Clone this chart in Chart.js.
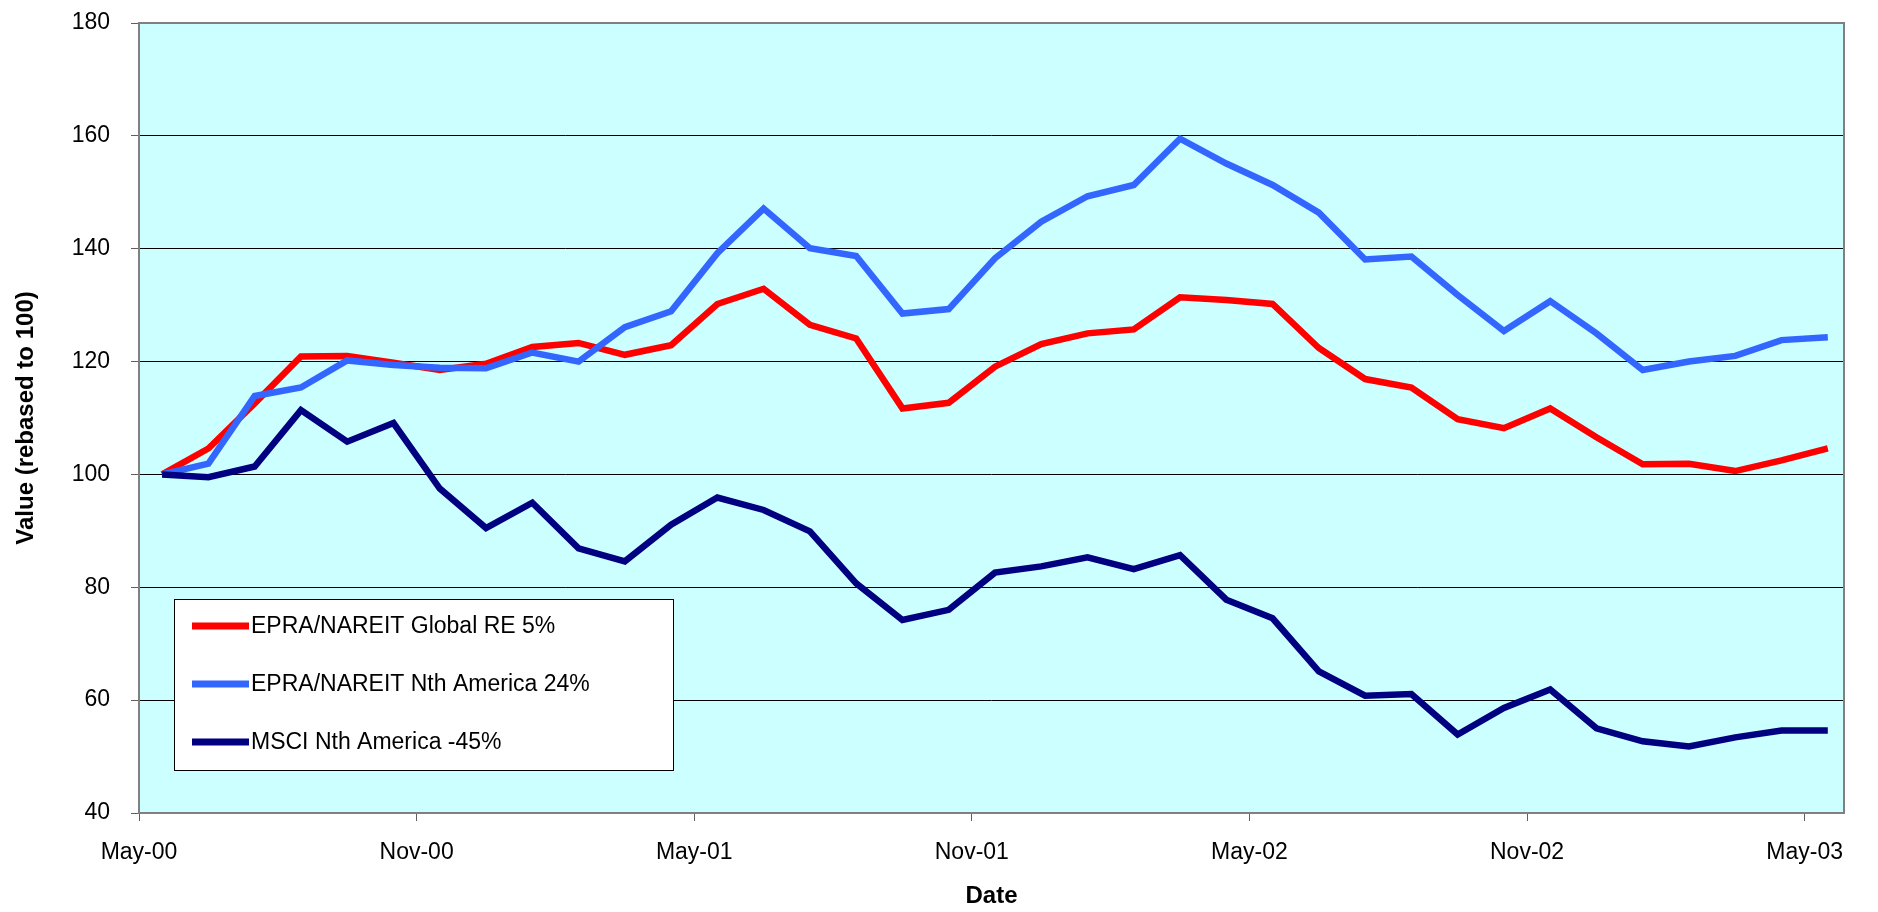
<!DOCTYPE html>
<html>
<head>
<meta charset="utf-8">
<script src="https://cdn.jsdelivr.net/npm/chart.js@4.4.1/dist/chart.umd.min.js"></script>
<style>
  html, body { margin: 0; padding: 0; background: #fff; }
  #wrap { width: 1878px; height: 912px; }
</style>
</head>
<body>
<div id="wrap"><canvas id="myChart" width="1878" height="912"></canvas></div>
<script>
// monthly observations, end of May-00 to end of May-03
var months = ['May-00','Jun-00','Jul-00','Aug-00','Sep-00','Oct-00','Nov-00','Dec-00',
  'Jan-01','Feb-01','Mar-01','Apr-01','May-01','Jun-01','Jul-01','Aug-01','Sep-01','Oct-01',
  'Nov-01','Dec-01','Jan-02','Feb-02','Mar-02','Apr-02','May-02','Jun-02','Jul-02','Aug-02',
  'Sep-02','Oct-02','Nov-02','Dec-02','Jan-03','Feb-03','Mar-03','Apr-03','May-03'];

var seriesNames = ['EPRA/NAREIT Global RE 5%', 'EPRA/NAREIT Nth America 24%', 'MSCI Nth America -45%'];

var globalRE = [100, 104.6, 112.6, 120.9, 121.0, 119.8, 118.5, 119.6, 122.6, 123.3, 121.2, 122.9,
  130.2, 132.9, 126.5, 124.1, 111.7, 112.7, 119.1, 123.1, 125.0, 125.7, 131.4, 130.9,
  130.2, 122.4, 116.9, 115.4, 109.8, 108.2, 111.7, 106.6, 101.8, 101.9, 100.6, 102.5, 104.6];

var nthAmericaRE = [100, 101.9, 113.9, 115.4, 120.2, 119.4, 118.9, 118.8, 121.6, 120.0, 126.1, 128.9,
  139.2, 147.1, 140.1, 138.7, 128.5, 129.3, 138.3, 144.8, 149.3, 151.3, 159.5, 155.1,
  151.3, 146.4, 138.1, 138.6, 131.8, 125.4, 130.7, 125.0, 118.5, 120.0, 121.0, 123.8, 124.3];

var msciNthAmerica = [100, 99.5, 101.4, 111.4, 105.8, 109.1, 97.5, 90.5, 95.0, 86.9, 84.6, 91.1,
  95.9, 93.7, 89.9, 80.7, 74.2, 76.0, 82.6, 83.7, 85.3, 83.2, 85.7, 77.8,
  74.5, 65.1, 60.8, 61.1, 53.9, 58.6, 61.9, 55.0, 52.7, 51.8, 53.4, 54.6, 54.6];

var tickLabels = ['May-00','Nov-00','May-01','Nov-01','May-02','Nov-02','May-03'];
var tickMonths = [0, 6, 12, 18, 24, 30, 36];

var colors = ['#ff0000', '#3366ff', '#000080'];

// points sit mid-month on the month axis
function toPoints(vals) {
  var pts = [];
  for (var i = 0; i < vals.length; i++) {
    pts.push({x: i + 0.5, y: vals[i]});
  }
  return pts;
}

var allSeries = [globalRE, nthAmericaRE, msciNthAmerica];
var datasets = [];
for (var s = 0; s < allSeries.length; s++) {
  datasets.push({
    label: seriesNames[s],
    data: toPoints(allSeries[s]),
    borderColor: colors[s],
    backgroundColor: colors[s],
    borderWidth: 6.5,
    pointRadius: 0,
    tension: 0,
    fill: false,
    order: 2 - s
  });
}

// plot background + frame
var plotFrame = {
  id: 'plotFrame',
  beforeDraw: function(chart) {
    var a = chart.chartArea, c = chart.ctx;
    c.save();
    c.fillStyle = '#ccffff';
    c.fillRect(a.left, a.top, a.right - a.left, a.bottom - a.top);
    c.restore();
  },
  beforeDatasetsDraw: function(chart) {
    var a = chart.chartArea, c = chart.ctx;
    c.save();
    c.strokeStyle = '#808080';
    c.lineWidth = 2;
    c.strokeRect(a.left, a.top, a.right - a.left, a.bottom - a.top);
    c.restore();
  }
};

// boxed legend sitting in the lower-left of the plot
var boxLegend = {
  id: 'boxLegend',
  afterDatasetsDraw: function(chart) {
    var a = chart.chartArea, c = chart.ctx;
    var x0 = a.left + 35, y0 = a.bottom - 214, w = 499, h = 171;
    c.save();
    c.fillStyle = '#ffffff';
    c.fillRect(x0, y0, w, h);
    c.strokeStyle = '#000000';
    c.lineWidth = 1;
    c.strokeRect(x0 + 0.5, y0 + 0.5, w, h);
    c.font = '23px "Liberation Sans", Arial, sans-serif';
    c.textBaseline = 'middle';
    c.textAlign = 'left';
    var ds = chart.data.datasets;
    for (var i = 0; i < ds.length; i++) {
      var yy = y0 + 27 + i * 58;
      c.strokeStyle = ds[i].borderColor;
      c.lineWidth = 7;
      c.beginPath();
      c.moveTo(x0 + 18, yy);
      c.lineTo(x0 + 75, yy);
      c.stroke();
      c.fillStyle = '#000000';
      c.fillText(ds[i].label, x0 + 77, yy + 1);
    }
    c.restore();
  }
};

var tickFont = {family: '"Liberation Sans", Arial, sans-serif', size: 23};
var titleFont = {family: '"Liberation Sans", Arial, sans-serif', size: 24, weight: 'bold'};

var config = {
  type: 'line',
  data: {datasets: datasets},
  options: {
    responsive: false,
    animation: false,
    layout: {padding: {left: 0, top: 23, right: 34, bottom: 0}},
    plugins: {legend: {display: false}, tooltip: {enabled: false}},
    scales: {
      x: {
        type: 'linear',
        min: 0,
        max: 36.85,
        afterBuildTicks: function(scale) {
          scale.ticks = tickMonths.map(function(v) { return {value: v}; });
        },
        afterFit: function(scale) { scale.height = 99; },
        ticks: {
          color: '#000',
          font: tickFont,
          padding: 18,
          maxRotation: 0,
          autoSkip: false,
          callback: function(v) {
            var k = tickMonths.indexOf(v);
            return k >= 0 ? tickLabels[k] : '';
          }
        },
        grid: {drawOnChartArea: false, drawTicks: true, tickLength: 8, tickColor: '#606060', lineWidth: 1},
        border: {display: false},
        title: {display: true, text: 'Date', color: '#000', font: titleFont, padding: {top: 0, bottom: 1}}
      },
      y: {
        min: 40,
        max: 180,
        afterFit: function(scale) {
          scale.width = 139;
          scale.paddingTop = 0;
          scale.paddingBottom = 0;
        },
        ticks: {stepSize: 20, color: '#000', font: tickFont, padding: 21},
        grid: {color: '#000000', lineWidth: 1, tickLength: 8, tickColor: '#606060'},
        border: {display: false},
        title: {display: true, text: 'Value (rebased to 100)', color: '#000', font: titleFont, padding: {top: 12, bottom: 0}}
      }
    }
  },
  plugins: [plotFrame, boxLegend]
};

var ctx = document.getElementById('myChart').getContext('2d');
var myChart = new Chart(ctx, config);
</script>
</body>
</html>
